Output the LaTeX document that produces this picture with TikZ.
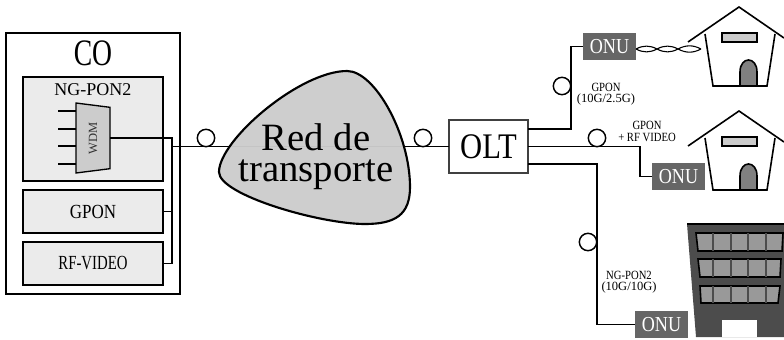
\documentclass[tikz,border=0pt]{standalone}
\usepackage{fontspec}
\setmainfont{Liberation Serif}
\newfontfamily\narrowfont[FakeStretch=0.85]{Liberation Serif}
\newfontfamily\slimfont[FakeStretch=0.74]{Liberation Serif}
\usetikzlibrary{shapes.geometric,positioning}
\definecolor{blobgray}{gray}{0.8}
\definecolor{boxgray}{gray}{0.92}
\definecolor{onugray}{gray}{0.4}
\definecolor{towergray}{gray}{0.3}
\definecolor{panegray}{gray}{0.6}
\begin{document}
\begin{tikzpicture}
        [x=0.75pt, y=-0.75pt,
        block/.style={draw, line width=1.5pt, fill=boxgray, outer sep=0pt, inner sep=0pt, minimum width=105pt, font=\narrowfont\fontsize{15}{15}\selectfont},
        onu/.style={fill=onugray, text=white, outer sep=0pt, inner sep=0pt, minimum width=39.75pt, minimum height=20.25pt, font=\narrowfont\fontsize{16}{16}\selectfont},
        fibre/.style={draw, circle, line width=1.1pt, minimum size=13pt, inner sep=0pt, fill=white},
        wire/.style={line width=1pt},
        small/.style={align=center, inner sep=0pt, font=\narrowfont\fontsize{9.4}{8.4}\selectfont}]
        \useasboundingbox (0,0) rectangle (784,339);

        \node [draw, line width=1.1pt, minimum width=130.5pt, minimum height=195.75pt, outer sep=0pt] (co) at (93,163.5) {};
        \node [font=\slimfont\fontsize{28}{28}\selectfont, inner sep=0pt] (cotext) at (93,53) {CO};

        \node [block, minimum height=78pt]   (ngpon) at (93,129) {};
        \node [block, minimum height=32.25pt] (gpon) [below =6.75pt of ngpon] {GPON};
        \node [block, minimum height=32.25pt, font=\slimfont\fontsize{15}{15}\selectfont] (rf) [below =6.75pt of gpon] {RF-VIDEO};
        \node [font=\fontsize{13.5}{13.5}\selectfont, inner sep=0pt] (ngtext) at (93,90) {NG-PON2};

        \node [draw, line width=1pt, fill=blobgray, trapezium, rotate=-90, trapezium left angle=75, trapezium right angle=75,
               trapezium stretches=true, minimum width=52.5pt, minimum height=25.5pt, inner sep=0pt, outer sep=0pt,
               text=black!80, font=\fontsize{9.4}{9.4}\selectfont] (wdm) at (93,138) {\rotatebox{180}{WDM}};

        \coordinate (bus) at (172,146.5);
        \foreach \i/\y in {1/111,2/129,3/146,4/164}
        {
            \coordinate (in\i) at (58,\y);
            \draw[wire] (in\i) -- (in\i -| wdm.south);
        }
        \draw[wire] (wdm.north) -| (bus);
        \draw[wire] (gpon.east) -- (gpon.east -| bus);
        \draw[wire] (rf.east) -| (bus);

        \node [draw, line width=1pt, draw=black!75, minimum width=59.25pt, minimum height=39.75pt, outer sep=0pt, inner sep=0pt,
               font=\narrowfont\fontsize{27}{27}\selectfont] (olt) at (488.5,146.5) {OLT};

        \node [onu] (onua) at (609.5,46.5)  {ONU};
        \node [onu] (onub) at (678.5,176.5) {ONU};
        \node [onu] (onuc) at (661.5,324.5) {ONU};

        \coordinate (oltup)  at (olt.east |- 0,129);
        \coordinate (oltlow) at (olt.east |- 0,164);
        \coordinate (turna) at (571,129);
        \coordinate (turnb) at (640,146.5);
        \coordinate (turnc) at (597,164);

        \draw[wire] (bus) -- (olt.west);
        \draw[wire] (oltup) -- (turna) |- (onua.west);
        \draw[wire] (olt.east) -- (turnb) |- (onub.west);
        \draw[wire] (oltlow) -- (turnc) |- (onuc.west);

        % transport cloud
        \draw[line width=1.6pt, fill=blobgray, fill opacity=0.96]
            (347,71) .. controls (375,71) and (410,135) .. (410,187)
            .. controls (410,215) and (395,224) .. (365,224)
            .. controls (320,224) and (219,195) .. (219,172)
            .. controls (219,140) and (300,71) .. (347,71) -- cycle;
        \node [align=center, inner sep=0pt, font=\fontsize{29}{23.5}\selectfont] (red) at (316,157) {Red de\\transporte};

        \node [fibre] (fa) at (206,138) {};
        \node [fibre] (fb) at (423,138) {};
        \node [fibre] (fc) at (562,86)  {};
        \node [fibre] (fd) at (597,138) {};
        \node [fibre] (fe) at (588,242) {};

        \node [small] (la) at (606,94)  {GPON\\{\normalfont (10G/2.5G)}};
        \node [small] (lb) at (647,131.5) {GPON\\+ RF VIDEO};
        \node [small] (lc) at (629,282.5) {NG-PON2\\{\normalfont (10G/10G)}};

        % twisted pair
        \coordinate (twa) at (onua.east |- 0,49);
        \coordinate (twb) at (657,49);
        \coordinate (twc) at (678,49);
        \coordinate (twd) at (701,49);
        \draw[line width=0.8pt] (twa) to[bend left=28] (twb) to[bend left=28] (twc) to[bend left=28] (twd);
        \draw[line width=0.8pt] (twa) to[bend right=28] (twb) to[bend right=28] (twc) to[bend right=28] (twd);

        % houses
        \foreach \dy in {0,104}
        {
            \begin{scope}[yshift=-0.75pt*\dy]
            \draw[line width=1.2pt] (688,42) -- (739,7) -- (784,38);
            \draw[line width=1.2pt] (705,34) -- (713,86) -- (767,86) -- (775,34);
            \draw[line width=1.2pt, fill=blobgray] (722,33) rectangle (757,42);
            \draw[line width=1.2pt, fill=black!50] (740,86) -- (740,72) .. controls (740,56) and (757,56) .. (757,72) -- (757,86) -- cycle;
            \end{scope}
        }

        % building
        \fill[towergray] (687,224) -- (784,224) -- (784,337) -- (696,337) -- cycle;
        \draw[line width=1.2pt] (687,224) -- (784,224);
        \foreach \xa/\xb/\xc/\xd/\ya/\yb in {696/783/782/698/233/251, 698/781/780/700/259/277, 700/780/778/701/286/303}
        {
            \draw[line width=1.2pt, fill=panegray] (\xa,\ya) -- (\xb,\ya) -- (\xc,\yb) -- (\xd,\yb) -- cycle;
            \foreach \x in {713,731,748,766}
                \draw[towergray, line width=0.8pt] (\x,\ya) -- (\x,\yb);
        }
        \fill[white] (722,320) rectangle (757,337);
\end{tikzpicture}
\end{document}
